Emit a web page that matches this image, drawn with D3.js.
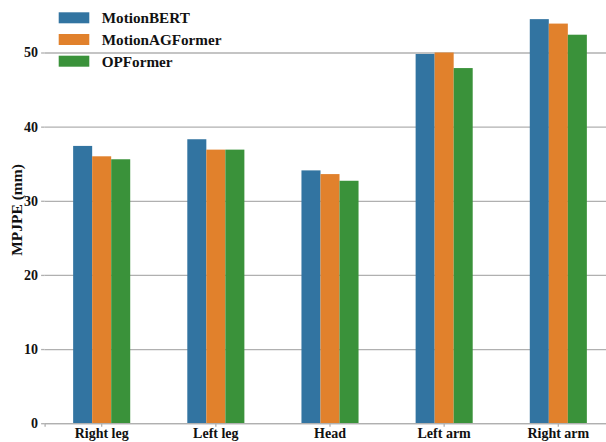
<!DOCTYPE html>
<html>
<head>
<meta charset="utf-8">
<script src="https://cdn.jsdelivr.net/npm/d3@7"></script>
<style>
  html, body { margin: 0; padding: 0; background: #fff; }
  svg { display: block; font-family: "Liberation Serif", "Times New Roman", serif; font-weight: bold; }
</style>
</head>
<body>
<svg id="chart" width="606" height="442"></svg>
<script>
// Body-part categories and per-model MPJPE (mm)
const categories = ["Right leg", "Left leg", "Head", "Left arm", "Right arm"];
const models = ["MotionBERT", "MotionAGFormer", "OPFormer"];
const motionBERT = [37.4, 38.3, 34.1, 49.8, 54.5];
const motionAGFormer = [36.0, 36.9, 33.6, 50.0, 53.9];
const opFormer = [35.6, 36.9, 32.7, 47.9, 52.4];
const yTicks = [0, 10, 20, 30, 40, 50];
const colors = ["#3274a1", "#e1812c", "#3a923a"];

const series = [motionBERT, motionAGFormer, opFormer];

const svg = d3.select("#chart");
const plotLeft = 44.6, plotRight = 615.4, plotBottom = 423.2;

const x = d3.scaleBand().domain(categories).range([plotLeft, plotRight]).paddingInner(0).paddingOuter(0);
const groupWidth = x.step() * 0.5;
const xSub = d3.scaleBand().domain(models).range([0, groupWidth]);
const y = d3.scaleLinear().domain([0, 50]).range([plotBottom, 52.5]);

// horizontal grid lines
const grid = svg.append("g")
  .attr("transform", `translate(${plotLeft},0)`)
  .call(d3.axisLeft(y).tickValues(yTicks).tickSize(-(plotRight - plotLeft)).tickFormat(""));
grid.select(".domain").remove();
grid.selectAll(".tick line").attr("stroke", "#b0b0b0").attr("stroke-width", 1.3);

// y tick marks and labels
const yAxis = svg.append("g")
  .attr("transform", `translate(${plotLeft},0)`)
  .call(d3.axisLeft(y).tickValues(yTicks).tickSize(3.5).tickPadding(3).tickFormat(d3.format("d")));
yAxis.select(".domain").remove();
yAxis.selectAll(".tick line").attr("stroke", "#b0b0b0").attr("stroke-width", 1.3);
yAxis.selectAll(".tick text")
  .attr("fill", "#111").attr("font-size", 14).attr("font-weight", "bold")
  .attr("font-family", "Liberation Serif, Times New Roman, serif");

// bars
const groups = svg.append("g").selectAll("g")
  .data(categories)
  .join("g")
  .attr("transform", c => `translate(${x(c) + (x.bandwidth() - groupWidth) / 2},0)`);

groups.selectAll("rect")
  .data((c, i) => models.map((m, j) => ({ model: m, value: series[j][i], j })))
  .join("rect")
  .attr("x", d => xSub(d.model))
  .attr("width", xSub.bandwidth())
  .attr("y", d => y(d.value))
  .attr("height", d => y(0) - y(d.value))
  .attr("fill", d => colors[d.j]);

// bottom axis
const xAxis = svg.append("g")
  .attr("transform", `translate(0,${plotBottom})`)
  .call(d3.axisBottom(x).tickSize(3.5).tickPadding(1.5));
xAxis.select(".domain").attr("stroke", "#b0b0b0").attr("stroke-width", 1.3);
xAxis.selectAll(".tick line").attr("stroke", "#b0b0b0").attr("stroke-width", 1.3);
xAxis.selectAll(".tick text")
  .attr("fill", "#111").attr("font-size", 14).attr("font-weight", "bold")
  .attr("font-family", "Liberation Serif, Times New Roman, serif");

// y axis title
svg.append("text")
  .attr("transform", `translate(21.5,${210}) rotate(-90)`)
  .attr("text-anchor", "middle")
  .attr("font-size", 15.5)
  .attr("fill", "#111")
  .text("MPJPE (mm)");

// legend
const legend = svg.append("g").selectAll("g")
  .data(models)
  .join("g")
  .attr("transform", (d, i) => `translate(58.7,${12.3 + i * 21.7})`);
legend.append("rect")
  .attr("width", 30.6).attr("height", 11)
  .attr("fill", (d, i) => colors[i]);
legend.append("text")
  .attr("x", 43).attr("y", 11)
  .attr("font-size", 15.2)
  .attr("fill", "#111")
  .text(d => d);
</script>
</body>
</html>
